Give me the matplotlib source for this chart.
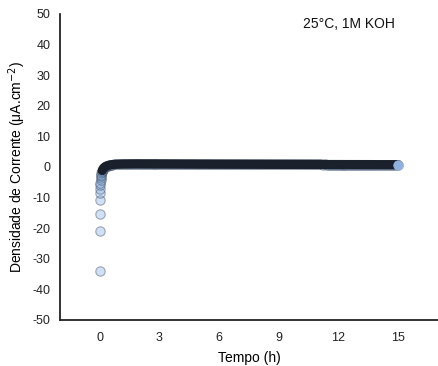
import matplotlib
matplotlib.use("Agg")
import matplotlib.pyplot as plt

plt.rcParams['font.family'] = ['Liberation Sans', 'DejaVu Sans']
plt.rcParams['axes.unicode_minus'] = False

# Transient part (start of the measurement)
t_start = [0.0, 0.005, 0.01, 0.015, 0.02, 0.025, 0.03, 0.035, 0.04, 0.05,
           0.06, 0.07, 0.08, 0.10, 0.12, 0.14, 0.17, 0.20, 0.25, 0.30,
           0.35, 0.40, 0.45, 0.50, 0.55]
j_start = [-34.0, -21.0, -15.5, -10.8, -8.6, -7.2, -6.0, -5.1, -4.3, -3.6,
           -3.0, -2.5, -2.0, -1.6, -1.2, -0.9, -0.6, -0.3, -0.05, 0.15,
           0.30, 0.42, 0.52, 0.60, 0.68]

# Steady part
t_steady = [0.6, 0.7, 0.8, 0.9, 1.0, 1.1, 1.2, 1.3, 1.4, 1.5,
            1.6, 1.7, 1.8, 1.9, 2.0, 2.1, 2.2, 2.3, 2.4, 2.5,
            2.6, 2.7, 2.8, 2.9, 3.0, 3.1, 3.2, 3.3, 3.4, 3.5,
            3.6, 3.7, 3.8, 3.9, 4.0, 4.1, 4.2, 4.3, 4.4, 4.5,
            4.6, 4.7, 4.8, 4.9, 5.0, 5.1, 5.2, 5.3, 5.4, 5.5,
            5.6, 5.7, 5.8, 5.9, 6.0, 6.1, 6.2, 6.3, 6.4, 6.5,
            6.6, 6.7, 6.8, 6.9, 7.0, 7.1, 7.2, 7.3, 7.4, 7.5,
            7.6, 7.7, 7.8, 7.9, 8.0, 8.1, 8.2, 8.3, 8.4, 8.5,
            8.6, 8.7, 8.8, 8.9, 9.0, 9.1, 9.2, 9.3, 9.4, 9.5,
            9.6, 9.7, 9.8, 9.9, 10.0, 10.1, 10.2, 10.3, 10.4, 10.5,
            10.6, 10.7, 10.8, 10.9, 11.0, 11.1, 11.2, 11.3, 11.4, 11.5,
            11.6, 11.7, 11.8, 11.9, 12.0, 12.1, 12.2, 12.3, 12.4, 12.5,
            12.6, 12.7, 12.8, 12.9, 13.0, 13.1, 13.2, 13.3, 13.4, 13.5,
            13.6, 13.7, 13.8, 13.9, 14.0, 14.1, 14.2, 14.3, 14.4, 14.5,
            14.6, 14.7, 14.8, 14.9, 15.0]
j_steady = [0.74, 0.80, 0.85, 0.88, 0.91, 0.93, 0.95, 0.96, 0.97, 0.98,
            0.99, 0.99, 1.00, 1.00, 0.99, 1.00, 0.99, 0.98, 0.99, 0.98,
            0.98, 0.97, 0.98, 0.97, 0.96, 0.97, 0.96, 0.95, 0.96, 0.95,
            0.95, 0.94, 0.95, 0.94, 0.93, 0.94, 0.93, 0.92, 0.93, 0.92,
            0.92, 0.91, 0.92, 0.91, 0.90, 0.91, 0.90, 0.90, 0.89, 0.90,
            0.89, 0.89, 0.88, 0.89, 0.88, 0.88, 0.87, 0.88, 0.87, 0.87,
            0.87, 0.86, 0.87, 0.86, 0.86, 0.85, 0.86, 0.85, 0.85, 0.85,
            0.84, 0.85, 0.84, 0.84, 0.84, 0.83, 0.84, 0.83, 0.83, 0.83,
            0.83, 0.82, 0.83, 0.82, 0.82, 0.82, 0.81, 0.82, 0.81, 0.81,
            0.81, 0.81, 0.80, 0.81, 0.80, 0.80, 0.80, 0.80, 0.79, 0.80,
            0.79, 0.79, 0.79, 0.79, 0.79, 0.79, 0.78, 0.79, 0.78, 0.78,
            0.78, 0.78, 0.78, 0.78, 0.77, 0.78, 0.77, 0.77, 0.77, 0.77,
            0.77, 0.77, 0.76, 0.77, 0.76, 0.76, 0.76, 0.76, 0.76, 0.76,
            0.76, 0.75, 0.76, 0.75, 0.75, 0.75, 0.75, 0.75, 0.75, 0.75,
            0.75, 0.74, 0.75, 0.74, 0.74]

x_ticks = [0, 3, 6, 9, 12, 15]
y_ticks = [-50, -40, -30, -20, -10, 0, 10, 20, 30, 40, 50]
annotation = "25°C, 1M KOH"

t = t_start + t_steady
j = j_start + j_steady

fig = plt.figure(figsize=(4.38, 3.66), dpi=100)
ax = fig.add_axes([0.137, 0.126, 0.863, 0.836])

# individual samples (light, semi-transparent circles)
ax.scatter(t, j, s=46, facecolor=(0.55, 0.70, 0.89, 0.40),
           edgecolor=(0.25, 0.30, 0.38, 0.45), linewidths=0.8, zorder=3)

# dense overlapping samples form a dark band
n_skip = 14  # start of the dense region within the transient
t_dense = t_start[n_skip:] + t_steady
j_dense = j_start[n_skip:] + j_steady
ax.plot(t_dense, j_dense, color='#161b24', lw=6.6, alpha=0.95,
        solid_capstyle='round', solid_joinstyle='round', zorder=4)

# last sample drawn on top
ax.scatter(t_steady[-1:], j_steady[-1:], s=46, facecolor='#8fb1de',
           edgecolor='#9ab6dc', linewidths=0.6, zorder=5)

ax.set_xlim(-2, 17)
ax.set_ylim(-50, 50)
ax.set_xticks(x_ticks)
ax.set_yticks(y_ticks)
ax.tick_params(length=0, labelsize=9, colors='#222222')
ax.tick_params(axis='x', pad=9)
ax.tick_params(axis='y', pad=7)

for side in ['top', 'right']:
    ax.spines[side].set_visible(False)
for side in ['left', 'bottom']:
    ax.spines[side].set_linewidth(1.3)
    ax.spines[side].set_color('#222222')

ax.set_xlabel('Tempo (h)', fontsize=10, labelpad=5)
ax.set_ylabel('Densidade de Corrente (μA.cm$^{-2}$)', fontsize=10, labelpad=3)

ax.text(0.886, 0.967, annotation, transform=ax.transAxes, ha='right',
        va='center', fontsize=10, color='#111111')

fig.savefig('out.png', dpi=100)
